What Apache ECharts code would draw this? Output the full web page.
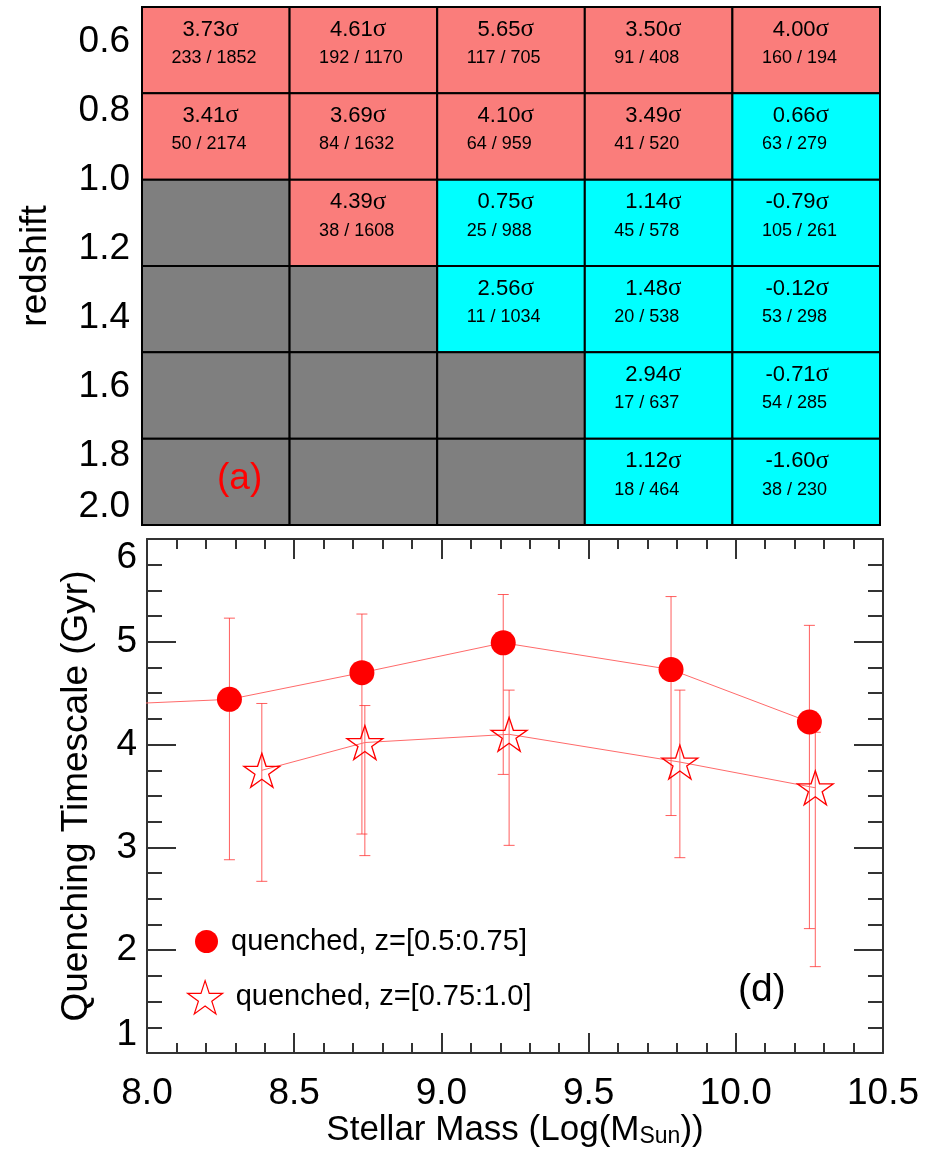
<!DOCTYPE html>
<html>
<head>
<meta charset="utf-8">
<script src="https://cdn.jsdelivr.net/npm/echarts@6/dist/echarts.min.js"></script>
<style>
  html, body { margin: 0; padding: 0; background: #fff; }
  #chart { width: 937px; height: 1155px; }
</style>
</head>
<body>
<div id="chart"></div>
<script>
// ---- Panel (a): significance grid in mass / redshift bins ----
const massBins = [8.0, 8.5, 9.0, 9.5, 10.0];          // lower edge of each mass bin
const zBins = [0.5, 0.75, 1.0, 1.25, 1.5, 1.75];       // lower edge of each redshift bin
const zTickLabels = [0.6, 0.8, 1.0, 1.2, 1.4, 1.6, 1.8, 2.0];

const sigmaGrid = [
  [3.73, 4.61, 5.65, 3.50, 4.00],
  [3.41, 3.69, 4.10, 3.49, 0.66],
  [null, 4.39, 0.75, 1.14, -0.79],
  [null, null, 2.56, 1.48, -0.12],
  [null, null, null, 2.94, -0.71],
  [null, null, null, 1.12, -1.60]
];
const quenchedGrid = [
  [233, 192, 117, 91, 160],
  [50, 84, 64, 41, 63],
  [null, 38, 25, 45, 105],
  [null, null, 11, 20, 53],
  [null, null, null, 17, 54],
  [null, null, null, 18, 38]
];
const totalGrid = [
  [1852, 1170, 705, 408, 194],
  [2174, 1632, 959, 520, 279],
  [null, 1608, 988, 578, 261],
  [null, null, 1034, 538, 298],
  [null, null, null, 637, 285],
  [null, null, null, 464, 230]
];

// ---- Panel (d): quenching timescale vs stellar mass ----
const massLowZ = [7.80, 8.28, 8.73, 9.21, 9.78, 10.25];
const tqLowZ = [4.38, 4.44, 4.70, 4.99, 4.73, 4.22];
const tqLowZHi = [null, 5.23, 5.27, 5.46, 5.44, 5.16];
const tqLowZLo = [null, 2.88, 3.13, 3.71, 3.31, 2.21];

const massHighZ = [8.39, 8.74, 9.23, 9.81, 10.27];
const tqHighZ = [3.75, 4.02, 4.10, 3.83, 3.58];
const tqHighZHi = [4.40, 4.38, 4.53, 4.53, 4.12];
const tqHighZLo = [2.67, 2.92, 3.02, 2.90, 1.84];

const nameLowZ = 'quenched, z=[0.5:0.75]';
const nameHighZ = 'quenched, z=[0.75:1.0]';

const FONT = '"Liberation Sans", Arial, Helvetica, sans-serif';
const SERIF = '"Liberation Serif", "Times New Roman", serif';
const RED_CELL = '#FA7D7B';
const CYAN_CELL = '#00FFFF';
const GRAY_CELL = '#7F7F7F';

// five-pointed star outline used as a marker
function starSymbol() {
  let d = '';
  for (let i = 0; i < 10; i++) {
    const r = i % 2 === 0 ? 1 : 0.382;
    const a = -Math.PI / 2 + i * Math.PI / 5;
    d += (i ? 'L' : 'M') + (r * Math.cos(a)).toFixed(4) + ' ' + (r * Math.sin(a)).toFixed(4);
  }
  return 'path://' + d + 'Z';
}
const STAR = starSymbol();

const massStep = massBins[1] - massBins[0];
const zStep = zBins[1] - zBins[0];

const cellData = [];
zBins.forEach((z, r) => {
  massBins.forEach((m, c) => cellData.push([m, z, c, r]));
});

function errorData(xs, lo, hi) {
  const out = [];
  xs.forEach((x, i) => { if (lo[i] != null && hi[i] != null) out.push([x, lo[i], hi[i]]); });
  return out;
}

function errorBarRenderer(color) {
  return function (params, api) {
    const x = api.value(0);
    const pLo = api.coord([x, api.value(1)]);
    const pHi = api.coord([x, api.value(2)]);
    const cap = 5.5;
    const st = { stroke: color, lineWidth: 1 };
    return {
      type: 'group',
      children: [
        { type: 'line', shape: { x1: pLo[0], y1: pLo[1], x2: pHi[0], y2: pHi[1] }, style: st },
        { type: 'line', shape: { x1: pLo[0] - cap, y1: pLo[1], x2: pLo[0] + cap, y2: pLo[1] }, style: st },
        { type: 'line', shape: { x1: pHi[0] - cap, y1: pHi[1], x2: pHi[0] + cap, y2: pHi[1] }, style: st }
      ]
    };
  };
}

const frameLine = { show: true, onZero: false, lineStyle: { color: '#333', width: 2 } };

const option = {
  backgroundColor: '#fff',
  animation: false,
  grid: [
    { left: 142, top: 7, width: 738, height: 518, outerBoundsMode: 'none' },
    { left: 147, top: 539, width: 736, height: 514, outerBoundsMode: 'none' }
  ],
  xAxis: [
    { gridIndex: 0, type: 'value', min: 8, max: 10.5, show: false },
    {
      gridIndex: 1, type: 'value', min: 8, max: 10.5, interval: 0.5, position: 'bottom',
      axisLine: frameLine,
      axisTick: { inside: true, length: 20, lineStyle: { color: '#333', width: 2 } },
      minorTick: { show: true, splitNumber: 5, length: 10, lineStyle: { color: '#333', width: 2 } },
      splitLine: { show: false },
      axisLabel: { fontSize: 37, fontFamily: FONT, color: '#000', margin: 22, formatter: v => v.toFixed(1) },
      name: '{t|Stellar Mass (Log(M}{s|Sun}{t|))}',
      nameLocation: 'middle', nameGap: 58,
      nameTextStyle: {
        rich: {
          t: { fontSize: 35, fontFamily: FONT, color: '#000' },
          s: { fontSize: 23, fontFamily: FONT, color: '#000', verticalAlign: 'bottom', padding: [12, 0, 0, 0] }
        }
      }
    },
    {
      gridIndex: 1, type: 'value', min: 8, max: 10.5, interval: 0.5, position: 'top',
      axisLine: frameLine,
      axisTick: { inside: true, length: 20, lineStyle: { color: '#333', width: 2 } },
      minorTick: { show: true, splitNumber: 5, length: 10, lineStyle: { color: '#333', width: 2 } },
      splitLine: { show: false },
      axisLabel: { show: false }
    }
  ],
  yAxis: [
    {
      gridIndex: 0, type: 'value', inverse: true, min: 0.5, max: 2.0,
      axisLine: { show: false }, axisTick: { show: false }, splitLine: { show: false },
      axisLabel: {
        customValues: zTickLabels, fontSize: 37, fontFamily: FONT, color: '#000', margin: 12,
        formatter: v => v.toFixed(1), verticalAlignMaxLabel: 'bottom'
      },
      name: 'redshift', nameLocation: 'middle', nameRotate: 90, nameGap: 88,
      nameTextStyle: { fontSize: 37, fontFamily: FONT, color: '#000' }
    },
    {
      gridIndex: 1, type: 'value', min: 1, max: 6, interval: 1, position: 'left',
      axisLine: frameLine,
      axisTick: { inside: true, length: 29, lineStyle: { color: '#333', width: 2 } },
      minorTick: { show: true, splitNumber: 4, length: 15, lineStyle: { color: '#333', width: 2 } },
      splitLine: { show: false },
      axisLabel: {
        fontSize: 37, fontFamily: FONT, color: '#000', margin: 10,
        verticalAlignMinLabel: 'bottom', verticalAlignMaxLabel: 'top'
      },
      name: 'Quenching Timescale (Gyr)', nameLocation: 'middle', nameRotate: 90, nameGap: 52,
      nameTextStyle: { fontSize: 37, fontFamily: FONT, color: '#000' }
    },
    {
      gridIndex: 1, type: 'value', min: 1, max: 6, interval: 1, position: 'right',
      axisLine: frameLine,
      axisTick: { inside: true, length: 29, lineStyle: { color: '#333', width: 2 } },
      minorTick: { show: true, splitNumber: 4, length: 15, lineStyle: { color: '#333', width: 2 } },
      splitLine: { show: false },
      axisLabel: { show: false }
    }
  ],
  legend: [
    {
      left: 195, top: 927, padding: 0, orient: 'vertical',
      itemWidth: 23, itemHeight: 23,
      formatter: n => ' ' + n,
      textStyle: { fontSize: 29, fontFamily: FONT, color: '#000' },
      data: [{ name: nameLowZ, icon: 'circle', itemStyle: { color: '#FF0000', borderWidth: 0 } }]
    },
    {
      left: 187, top: 980, padding: 0, orient: 'vertical',
      itemWidth: 35, itemHeight: 34,
      formatter: n => ' ' + n,
      textStyle: { fontSize: 29, fontFamily: FONT, color: '#000' },
      data: [{
        name: nameHighZ, icon: STAR,
        itemStyle: { color: 'rgba(0,0,0,0)', borderColor: '#FF0000', borderWidth: 1.2 }
      }]
    }
  ],
  graphic: [
    {
      type: 'text', left: 217, top: 460, z: 100,
      style: { text: '(a)', fontSize: 37, fontFamily: FONT, fill: '#FF0000' }
    },
    {
      type: 'text', left: 738, top: 971, z: 100,
      style: { text: '(d)', fontSize: 39, fontFamily: FONT, fill: '#000' }
    }
  ],
  series: [
    {
      type: 'custom',
      name: 'cells',
      xAxisIndex: 0, yAxisIndex: 0,
      data: cellData,
      encode: { x: 0, y: 1 },
      renderItem(params, api) {
        const x0 = api.value(0), y0 = api.value(1);
        const c = api.value(2), r = api.value(3);
        const p0 = api.coord([x0, y0]);
        const p1 = api.coord([x0 + massStep, y0 + zStep]);
        const w = p1[0] - p0[0], h = p1[1] - p0[1];
        const sig = sigmaGrid[r][c];
        const fill = sig == null ? GRAY_CELL : (sig >= 3 ? RED_CELL : CYAN_CELL);
        const children = [{
          type: 'rect',
          shape: { x: p0[0], y: p0[1], width: w, height: h },
          style: { fill: fill, stroke: '#000', lineWidth: 2 }
        }];
        if (sig != null) {
          children.push({
            type: 'text',
            x: p0[0] + w * 0.655, y: p0[1] + h * 0.26,
            z2: 10,
            style: {
              text: '{v|' + sig.toFixed(2) + '}{s|σ}',
              align: 'right', verticalAlign: 'middle',
              rich: {
                v: { fontSize: 22, fontFamily: FONT, fill: '#000' },
                s: { fontSize: 25, fontFamily: SERIF, fill: '#000' }
              }
            }
          });
          children.push({
            type: 'text',
            x: p0[0] + w * 0.2, y: p0[1] + h * 0.59,
            z2: 10,
            style: {
              text: quenchedGrid[r][c] + ' / ' + totalGrid[r][c],
              align: 'left', verticalAlign: 'middle',
              fontSize: 18, fontFamily: FONT, fill: '#000'
            }
          });
        }
        return { type: 'group', children: children };
      }
    },
    {
      type: 'custom',
      name: 'errLow',
      xAxisIndex: 1, yAxisIndex: 1,
      clip: true, z: 2,
      data: errorData(massLowZ, tqLowZLo, tqLowZHi),
      encode: { x: 0, y: [1, 2] },
      renderItem: errorBarRenderer('rgba(255,40,40,0.75)')
    },
    {
      type: 'custom',
      name: 'errHigh',
      xAxisIndex: 1, yAxisIndex: 1,
      clip: true, z: 2,
      data: errorData(massHighZ, tqHighZLo, tqHighZHi),
      encode: { x: 0, y: [1, 2] },
      renderItem: errorBarRenderer('rgba(255,40,40,0.75)')
    },
    {
      type: 'line',
      name: nameLowZ,
      xAxisIndex: 1, yAxisIndex: 1,
      z: 3,
      data: massLowZ.map((m, i) => [m, tqLowZ[i]]),
      symbol: 'circle', symbolSize: 25,
      itemStyle: { color: '#FF0000' },
      lineStyle: { color: '#FF6A6A', width: 1 },
      clip: true
    },
    {
      type: 'line',
      name: nameHighZ,
      xAxisIndex: 1, yAxisIndex: 1,
      z: 3,
      data: massHighZ.map((m, i) => [m, tqHighZ[i]]),
      symbol: STAR, symbolSize: [36, 34],
      itemStyle: { color: 'rgba(0,0,0,0)', borderColor: '#FF0000', borderWidth: 1.3 },
      lineStyle: { color: '#FF6A6A', width: 1 },
      clip: true
    }
  ]
};

const chart = echarts.init(document.getElementById('chart'), null, { renderer: 'canvas' });
chart.setOption(option);
</script>
</body>
</html>
